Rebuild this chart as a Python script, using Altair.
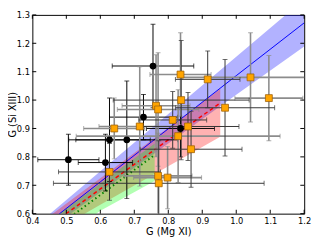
import altair as alt
import pandas as pd

# ---------------- data ----------------
# orange squares; grp: 1 = grey error bars, 0 = dark error bars
sq_x    = [0.836, 0.916, 1.042, 1.096, 0.838, 0.967, 0.764, 0.770, 0.813, 0.641, 0.716, 0.627, 0.858, 0.829, 0.867, 0.770, 0.798, 0.772]
sq_y    = [1.090, 1.073, 1.080, 1.007, 1.000, 0.973, 0.980, 0.967, 0.930, 0.900, 0.907, 0.747, 0.907, 0.873, 0.827, 0.733, 0.727, 0.707]
sq_xerr = [0.090, 0.095, 0.200, 0.100, 0.200, 0.146, 0.100, 0.120, 0.100, 0.090, 0.120, 0.150, 0.150, 0.300, 0.150, 0.100, 0.100, 0.310]
sq_yerr = [0.147, 0.100, 0.157, 0.150, 0.210, 0.170, 0.180, 0.200, 0.100, 0.107, 0.210, 0.100, 0.120, 0.163, 0.134, 0.150, 0.110, 0.150]
sq_grp  = [1, 0, 1, 1, 0, 0, 1, 1, 0, 1, 1, 0, 0, 1, 0, 1, 1, 0]

# black circles
ci_x    = [0.755, 0.727, 0.506, 0.615, 0.627, 0.678, 0.836]
ci_y    = [1.120, 0.940, 0.790, 0.780, 0.860, 0.860, 0.900]
ci_xerr = [0.120, 0.100, 0.090, 0.080, 0.120, 0.150, 0.100]
ci_yerr = [0.147, 0.080, 0.090, 0.100, 0.147, 0.207, 0.100]

# blue fit and band
blue_x  = [0.40, 0.60, 0.80, 1.00, 1.20]
blue_y  = [0.525, 0.712, 0.899, 1.086, 1.272]
blue_lo = [0.503, 0.675, 0.847, 1.019, 1.189]
blue_hi = [0.547, 0.749, 0.951, 1.153, 1.355]

# red fit and band
red_x  = [0.45, 0.60, 0.80, 0.953]
red_y  = [0.557, 0.687, 0.860, 0.990]
red_lo = [0.529, 0.631, 0.767, 0.871]
red_hi = [0.591, 0.725, 0.903, 1.040]

# green fit and band
grn_x  = [0.45, 0.60, 0.76]
grn_y  = [0.534, 0.666, 0.807]
grn_lo = [0.480, 0.610, 0.715]
grn_hi = [0.574, 0.706, 0.847]

x_ticks = [0.4, 0.5, 0.6, 0.7, 0.8, 0.9, 1.0, 1.1, 1.1999]
y_ticks = [0.6, 0.7, 0.8, 0.9, 1.0, 1.1, 1.2, 1.2999]

W, H = 279, 204
FONT = "DejaVu Sans"

xs = alt.Scale(domain=[0.4, 1.2], nice=False, zero=False)
ys = alt.Scale(domain=[0.6, 1.3], nice=False, zero=False)

xax = alt.Axis(values=x_ticks, format=".1f", ticks=False, grid=False, domain=False,
               labelFont=FONT, labelFontSize=8.5, labelColor="black", labelPadding=3,
               labelFlush=False, labelOverlap=False,
               title="G (Mg XI)", titleFont=FONT, titleFontSize=10, titleFontWeight="normal",
               titleColor="black", titlePadding=2)
yax = alt.Axis(values=y_ticks, format=".1f", ticks=False, grid=False, domain=False,
               labelFont=FONT, labelFontSize=8.5, labelColor="black", labelPadding=3,
               labelFlush=False, labelOverlap=False,
               title="G (Si XIII)", titleFont=FONT, titleFontSize=10, titleFontWeight="normal",
               titleColor="black", titleX=-15, titleY=H / 2, titleBaseline="bottom")


def X(f):
    return alt.X(f, scale=xs, axis=xax)


def Y(f):
    return alt.Y(f, scale=ys, axis=yax)


def band(xv, lo, hi, color):
    df = pd.DataFrame({"x": xv, "lo": lo, "hi": hi})
    return alt.Chart(df).mark_area(color=color, opacity=0.3, clip=True).encode(
        x=X("x:Q"), y=Y("lo:Q"), y2="hi:Q")


def fitline(xv, yv, color, width, dash):
    df = pd.DataFrame({"x": xv, "y": yv})
    kw = dict(color=color, strokeWidth=width, clip=True)
    if dash:
        kw["strokeDash"] = dash
    return alt.Chart(df).mark_line(**kw).encode(x=X("x:Q"), y=Y("y:Q"))


def errbars(xv, yv, xe, ye, color, width):
    df = pd.DataFrame({"x": xv, "y": yv, "xe": xe, "ye": ye})
    df["xlo"] = df.x - df.xe
    df["xhi"] = df.x + df.xe
    df["ylo"] = df.y - df.ye
    df["yhi"] = df.y + df.ye
    base = alt.Chart(df)
    hor = base.mark_rule(color=color, strokeWidth=width, clip=True).encode(
        x=X("xlo:Q"), x2="xhi:Q", y=Y("y:Q"))
    ver = base.mark_rule(color=color, strokeWidth=width, clip=True).encode(
        x=X("x:Q"), y=Y("ylo:Q"), y2="yhi:Q")
    capx = pd.concat([df[["xlo", "y"]].rename(columns={"xlo": "cx"}),
                      df[["xhi", "y"]].rename(columns={"xhi": "cx"})])
    capy = pd.concat([df[["x", "ylo"]].rename(columns={"ylo": "cy"}),
                      df[["x", "yhi"]].rename(columns={"yhi": "cy"})])
    cx = alt.Chart(capx).mark_tick(color=color, orient="vertical", size=5, thickness=1, clip=True).encode(
        x=X("cx:Q"), y=Y("y:Q"))
    cy = alt.Chart(capy).mark_tick(color=color, orient="horizontal", size=5, thickness=1, clip=True).encode(
        x=X("x:Q"), y=Y("cy:Q"))
    return [hor, ver, cx, cy]


def pick(vals, grp, g):
    return [v for v, k in zip(vals, grp) if k == g]


sq_df = pd.DataFrame({"x": sq_x, "y": sq_y})
ci_df = pd.DataFrame({"x": ci_x, "y": ci_y})

squares = alt.Chart(sq_df).mark_square(size=50, color="#FFA500", opacity=1, stroke="#a0620a",
                                       strokeWidth=0.8, clip=True).encode(x=X("x:Q"), y=Y("y:Q"))
circles = alt.Chart(ci_df).mark_circle(size=48, color="black", opacity=1, clip=True).encode(
    x=X("x:Q"), y=Y("y:Q"))

xt = pd.DataFrame({"v": x_ticks})
yt = pd.DataFrame({"v": y_ticks})
tk = dict(color="black", strokeWidth=1)
ticks = [
    alt.Chart(xt).mark_rule(**tk).encode(x=X("v:Q"), y=alt.value(H), y2=alt.value(H - 4)),
    alt.Chart(xt).mark_rule(**tk).encode(x=X("v:Q"), y=alt.value(0), y2=alt.value(4)),
    alt.Chart(yt).mark_rule(**tk).encode(y=Y("v:Q"), x=alt.value(0), x2=alt.value(4)),
    alt.Chart(yt).mark_rule(**tk).encode(y=Y("v:Q"), x=alt.value(W - 4), x2=alt.value(W)),
]

layers = [
    band(blue_x, blue_lo, blue_hi, "blue"),
    band(red_x, red_lo, red_hi, "red"),
    band(grn_x, grn_lo, grn_hi, "lime"),
    fitline(blue_x, blue_y, "blue", 1, None),
    fitline(red_x, red_y, "red", 1.5, [4, 3]),
    fitline(grn_x, grn_y, "green", 2, [1.5, 3]),
]
layers += errbars(ci_x, ci_y, ci_xerr, ci_yerr, "black", 1)
layers += errbars(pick(sq_x, sq_grp, 1), pick(sq_y, sq_grp, 1), pick(sq_xerr, sq_grp, 1),
                  pick(sq_yerr, sq_grp, 1), "#8c8c8c", 1.6)
layers += errbars(pick(sq_x, sq_grp, 0), pick(sq_y, sq_grp, 0), pick(sq_xerr, sq_grp, 0),
                  pick(sq_yerr, sq_grp, 0), "#333333", 1)
layers += [circles, squares]
layers += ticks

chart = alt.layer(*layers).properties(
    width=W, height=H,
    autosize=alt.AutoSizeParams(type="none"),
    padding={"left": 25, "top": 4, "right": 8, "bottom": 26},
).configure_view(stroke="black", strokeWidth=1
).configure_axis(labelOverlap=False)

chart.save("out.html", embed_options={"renderer": "svg", "actions": False})
